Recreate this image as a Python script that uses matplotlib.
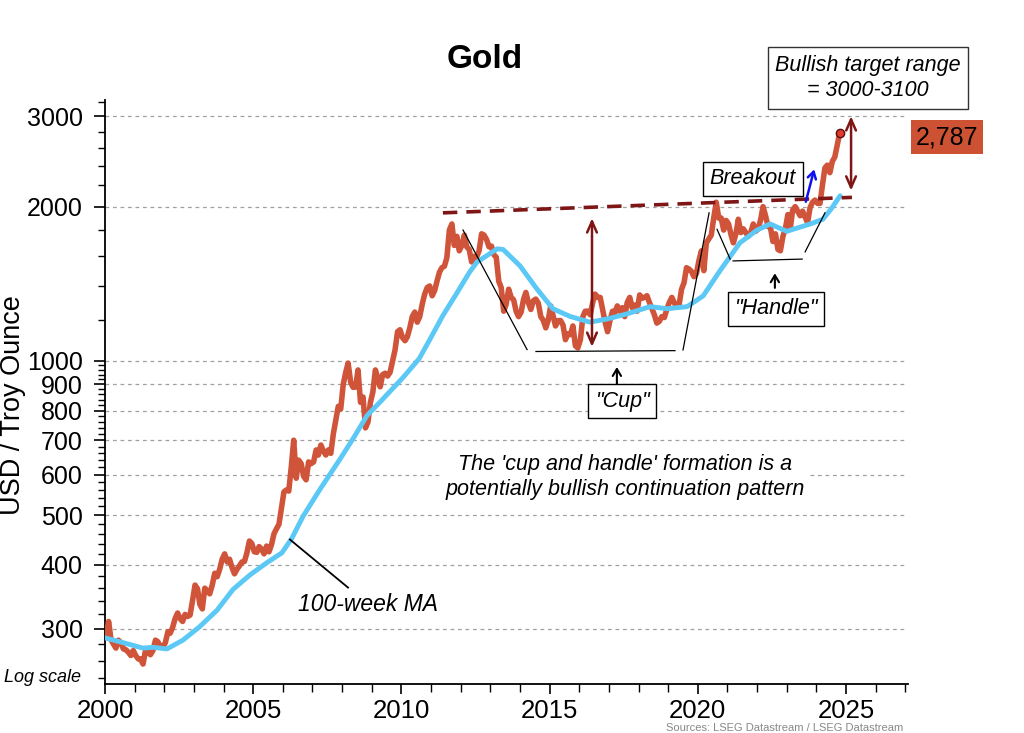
import matplotlib
matplotlib.use("Agg")
import matplotlib.pyplot as plt
import numpy as np
import pandas as pd

plt.rcParams['font.family'] = ['Liberation Sans', 'DejaVu Sans']

# Gold price, monthly (USD / troy ounce)
gold_2000 = [290, 310, 286, 280, 275, 285, 282, 274, 273, 270, 266, 272]
gold_2001 = [266, 262, 262, 256, 272, 270, 267, 272, 285, 283, 276, 276]
gold_2002 = [282, 296, 294, 302, 314, 322, 314, 310, 320, 317, 319, 340]
gold_2003 = [365, 359, 335, 328, 360, 356, 351, 365, 385, 379, 392, 410]
gold_2004 = [420, 405, 410, 395, 384, 392, 398, 405, 406, 422, 445, 440]
gold_2005 = [424, 423, 434, 429, 420, 435, 424, 438, 460, 470, 480, 515]
gold_2006 = [555, 560, 557, 620, 700, 590, 640, 630, 595, 586, 635, 630]
gold_2007 = [635, 670, 655, 685, 667, 655, 670, 660, 720, 765, 815, 805]
gold_2008 = [900, 950, 990, 909, 888, 889, 960, 830, 850, 740, 760, 830]
gold_2009 = [870, 960, 925, 890, 940, 946, 934, 950, 1000, 1050, 1140, 1150]
gold_2010 = [1110, 1095, 1114, 1160, 1220, 1245, 1190, 1220, 1290, 1350, 1390, 1400]
gold_2011 = [1340, 1372, 1430, 1490, 1520, 1530, 1590, 1800, 1850, 1680, 1750, 1640]
gold_2012 = [1680, 1760, 1670, 1650, 1560, 1600, 1594, 1640, 1770, 1760, 1725, 1670]
gold_2013 = [1675, 1610, 1593, 1430, 1390, 1250, 1290, 1380, 1330, 1316, 1250, 1220]
gold_2014 = [1244, 1320, 1360, 1299, 1260, 1310, 1320, 1296, 1220, 1200, 1160, 1200]
gold_2015 = [1280, 1220, 1170, 1198, 1199, 1175, 1100, 1130, 1125, 1170, 1070, 1060]
gold_2016 = [1100, 1220, 1250, 1250, 1230, 1300, 1350, 1330, 1330, 1260, 1190, 1140]
gold_2017 = [1200, 1250, 1240, 1280, 1250, 1270, 1220, 1300, 1330, 1270, 1285, 1250]
gold_2018 = [1345, 1325, 1330, 1340, 1300, 1265, 1230, 1185, 1195, 1220, 1215, 1260]
gold_2019 = [1300, 1330, 1300, 1275, 1284, 1380, 1420, 1520, 1510, 1495, 1460, 1480]
gold_2020 = [1570, 1640, 1500, 1700, 1730, 1760, 1900, 2040, 1900, 1900, 1800, 1880]
gold_2021 = [1850, 1760, 1700, 1770, 1890, 1780, 1810, 1780, 1750, 1780, 1850, 1790]
gold_2022 = [1810, 1890, 2000, 1920, 1830, 1820, 1710, 1770, 1650, 1640, 1750, 1810]
gold_2023 = [1930, 1820, 1970, 2000, 1960, 1920, 1960, 1910, 1860, 1990, 2040, 2060]
gold_2024 = [2030, 2030, 2200, 2380, 2410, 2330, 2450, 2500, 2640, 2787]

gold_values = (gold_2000 + gold_2001 + gold_2002 + gold_2003 + gold_2004 + gold_2005
               + gold_2006 + gold_2007 + gold_2008 + gold_2009 + gold_2010 + gold_2011
               + gold_2012 + gold_2013 + gold_2014 + gold_2015 + gold_2016 + gold_2017
               + gold_2018 + gold_2019 + gold_2020 + gold_2021 + gold_2022 + gold_2023
               + gold_2024)
gold_dates = pd.date_range("2000-01-01", periods=len(gold_values), freq="MS") + pd.Timedelta(days=14)
gold_years = gold_dates.year + (gold_dates.dayofyear - 1) / 365.25
latest_price = gold_values[-1]

# 100-week moving average
ma_years = [2000.0, 2000.5, 2001.28, 2001.62, 2002.09, 2002.63, 2003.2, 2003.78, 2004.32,
            2004.89, 2005.47, 2005.97, 2006.31, 2006.68, 2007.25, 2007.93, 2008.37, 2008.84,
            2009.28, 2010.05, 2010.6, 2010.96, 2011.4, 2011.85, 2012.3, 2012.55, 2013.23,
            2013.43, 2014.0, 2014.57, 2015.11, 2015.69, 2016.36, 2016.94, 2017.61, 2018.39,
            2018.96, 2019.64, 2020.18, 2020.75, 2021.42, 2022.0, 2022.44, 2023.0, 2023.79,
            2024.22, 2024.5, 2024.8]
ma_values = [288, 283, 275, 276, 274, 285, 303, 326, 358,
             382, 404, 422, 451, 497, 561, 643, 705, 782,
             831, 927, 1010, 1101, 1226, 1350, 1490, 1559, 1654,
             1650, 1533, 1382, 1264, 1221, 1190, 1207, 1235, 1276,
             1264, 1276, 1339, 1500, 1700, 1800, 1850, 1790, 1850,
             1890, 1980, 2100]

y_major = [300, 400, 500, 600, 700, 800, 900, 1000, 2000, 3000]
x_major = [2000, 2005, 2010, 2015, 2020, 2025]

red = "#D0543A"
blue = "#5BC8F5"
dark_red = "#7E1616"
note_size = 15.5

fig = plt.figure(figsize=(10.24, 7.33), dpi=100)
ax = fig.add_axes([0.1025, 0.0668, 0.7842, 0.7968])

ax.set_yscale("log")
ax.set_xlim(2000, 2027.09)
ax.set_ylim(234, 3230)

for v in y_major:
    ax.axhline(v, color="#a0a0a0", lw=0.9, ls=(0, (3, 3)), zorder=0)

ax.plot(gold_years, gold_values, color=red, lw=4, solid_joinstyle="round", zorder=3)
ax.plot(ma_years, ma_values, color=blue, lw=3.5, solid_capstyle="round", zorder=4)
ax.plot(gold_years[-1], latest_price, "o", ms=6, color="#E03A2A", mec="#5a1010", mew=1, zorder=6)

# ticks
ax.set_yticks(y_major)
ax.set_yticklabels([str(v) for v in y_major])
minor_y = [v for v in range(240, 1000, 20) if v not in y_major] + [1200, 1400, 1600, 1800,
                                                                   2200, 2400, 2600, 2800, 3200]
ax.set_yticks(minor_y, minor=True)
ax.yaxis.set_minor_formatter(matplotlib.ticker.NullFormatter())
ax.set_xticks(x_major)
ax.set_xticks(range(2000, 2028), minor=True)
ax.tick_params(axis="y", which="major", length=8, width=1.2, labelsize=18, pad=8)
ax.tick_params(axis="y", which="minor", length=5, width=1)
ax.tick_params(axis="x", which="major", length=7, width=1.2, labelsize=18.5, pad=4)
ax.tick_params(axis="x", which="minor", length=6, width=1)
for s in ["top", "right"]:
    ax.spines[s].set_visible(False)
for s in ["left", "bottom"]:
    ax.spines[s].set_linewidth(1.3)

ax.set_ylabel("USD / Troy Ounce", fontsize=19.5)
ax.yaxis.set_label_coords(-0.0985, 0.478)

fig.text(485 / 1024, 1 - 60 / 733, "Gold", fontsize=24, fontweight="bold", ha="center", va="center")
fig.text(4 / 1024, 1 - 677 / 733, "Log scale", fontsize=13, style="italic", va="center")

# resistance line and target arrows
ax.plot([2011.4, 2025.2], [1945, 2085], color=dark_red, lw=2.6, ls=(0, (4, 2.5)), zorder=5)
arrow_kw = dict(arrowstyle="<->,head_length=0.8,head_width=0.35", color=dark_red, lw=1.8)
ax.annotate("", xy=(2016.43, 1922), xytext=(2016.43, 1052), arrowprops=arrow_kw, zorder=6)
ax.annotate("", xy=(2025.17, 3040), xytext=(2025.17, 2123), arrowprops=arrow_kw, zorder=6)
ax.annotate("", xy=(2023.95, 2394), xytext=(2023.62, 2020),
            arrowprops=dict(arrowstyle="->,head_length=0.5,head_width=0.3", color="#1010F0", lw=1.8),
            zorder=6)

# cup and handle sketch lines
thin = dict(color="black", lw=0.9, zorder=5)
ax.plot([2012.08, 2014.24], [1800, 1052], **thin)
ax.plot([2014.54, 2019.23], [1043, 1047], **thin)
ax.plot([2019.5, 2020.38], [1050, 1945], **thin)
ax.plot([2020.65, 2021.09], [1806, 1580], **thin)
ax.plot([2021.19, 2023.52], [1567, 1580], **thin)
ax.plot([2023.62, 2024.29], [1632, 1945], **thin)
ax.plot([2006.24, 2008.2], [448, 361], color="black", lw=1.3, zorder=5)

up_arrow = dict(arrowstyle="->,head_length=0.5,head_width=0.3", color="black", lw=1.5)
ax.annotate("", xy=(2017.27, 985), xytext=(2017.27, 886), arrowprops=up_arrow)
ax.annotate("", xy=(2022.6, 1501), xytext=(2022.6, 1371), arrowprops=up_arrow)

box = dict(boxstyle="square,pad=0.3", fc="white", ec="black", lw=1)
ax.text(2017.44, 834, "\"Cup\"", fontsize=note_size, style="italic", ha="center", va="center",
        bbox=box, zorder=7)
ax.text(2022.64, 1263, "\"Handle\"", fontsize=note_size, style="italic", ha="center", va="center",
        bbox=box, zorder=7)
ax.text(2021.86, 2268, "Breakout", fontsize=note_size, style="italic", ha="center", va="center",
        bbox=box, zorder=7)
ax.text(2008.87, 334, "100-week MA", fontsize=16.5, style="italic", ha="center", va="center", zorder=7)
ax.text(2017.54, 594, "The 'cup and handle' formation is a\npotentially bullish continuation pattern",
        fontsize=note_size, style="italic", ha="center", va="center", linespacing=1.25,
        bbox=dict(boxstyle="square,pad=0.25", fc="white", ec="none"), zorder=7)

fig.text(868 / 1024, 1 - 78 / 733, "Bullish target range\n= 3000-3100", fontsize=note_size,
         style="italic", ha="center", va="center", linespacing=1.25,
         bbox=dict(boxstyle="square,pad=0.35", fc="white", ec="#333333", lw=1))
fig.text(947 / 1024, 1 - 137 / 733, f"{latest_price:,}", fontsize=18, ha="center", va="center",
         bbox=dict(boxstyle="square,pad=0.2", fc="#CD5233", ec="none"))

fig.text(785 / 1024, 2 / 733, "Sources: LSEG Datastream / LSEG Datastream", fontsize=8,
         color="#888888", ha="center", va="baseline")

fig.savefig("out.png", dpi=100)
